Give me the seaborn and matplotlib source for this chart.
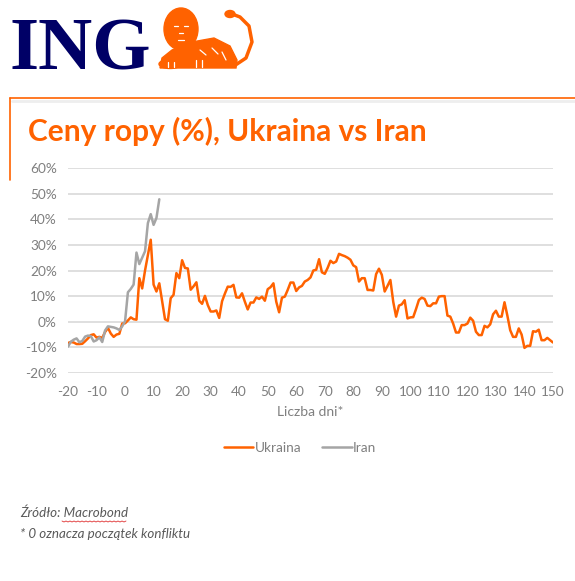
import seaborn as sns
import pandas as pd
import matplotlib.pyplot as plt
from matplotlib.lines import Line2D
from matplotlib.patches import Ellipse, Polygon

# Oil price change (%) vs days since start of conflict
days_ukraine = list(range(-20, 151))
ukraine = [
    -8.3, -7.9, -8.1, -8.7, -8.7, -8.6, -7.6, -6.5, -5.2, -4.9,
    -6.2, -5.9, -6.3, -4.0, -2.4, -4.6, -5.9, -5.0, -4.7, -0.7,
    -0.6, 0.5, 1.7, 1.0, 0.8, 17.0, 13.0, 20.0, 26.0, 32.0,
    14.5, 11.8, 15.0, 8.0, 1.0, 0.4, 9.2, 10.5, 19.0, 17.0,
    24.0, 21.0, 20.8, 12.5, 13.8, 15.4, 8.2, 7.0, 10.1, 6.5,
    4.0, 4.0, 4.4, 1.5, 8.0, 11.0, 13.7, 13.6, 14.4, 9.5,
    9.4, 11.1, 7.8, 4.8, 7.5, 7.5, 9.5, 8.9, 9.8, 8.2,
    12.7, 13.5, 15.0, 7.8, 3.7, 9.4, 9.8, 12.4, 15.3, 15.3,
    12.0, 13.4, 14.0, 15.7, 16.3, 17.3, 20.0, 20.3, 24.4, 19.3,
    18.7, 21.0, 23.8, 22.9, 23.5, 26.5, 26.0, 25.6, 25.0, 24.2,
    22.0, 21.3, 15.7, 17.0, 17.0, 12.4, 12.4, 12.2, 18.6, 20.7,
    18.3, 11.8, 14.0, 16.3, 7.8, 2.0, 6.3, 6.8, 8.4, 1.3,
    1.7, 1.8, 5.0, 8.5, 9.4, 8.9, 6.3, 6.1, 7.2, 7.2,
    9.8, 10.0, 10.0, 2.4, 2.0, -0.7, -4.2, -4.2, -1.3, -1.3,
    -0.7, 1.6, 0.4, -3.9, -5.2, -5.2, -1.6, -2.2, -1.0, 2.9,
    4.3, 2.0, 2.0, 7.6, 2.4, -3.3, -5.9, -5.9, -2.6, -5.0,
    -10.2, -9.4, -9.4, -3.7, -3.9, -3.1, -7.2, -7.2, -6.3, -7.2,
    -8.1,
]
days_iran = list(range(-20, 13))
iran = [
    -9.7, -7.8, -7.0, -6.5, -8.0, -7.5, -5.8, -5.4, -5.6, -7.7,
    -7.2, -6.1, -7.9, -3.4, -1.8, -2.0, -2.2, -2.6, -3.2, -1.8,
    0.2, 11.5, 12.8, 14.5, 27.0, 22.5, 25.0, 27.5, 38.5, 42.0,
    37.8, 40.5, 47.8,
]
x_ticks = list(range(-20, 151, 10))
y_ticks = [-20, -10, 0, 10, 20, 30, 40, 50, 60]
series_names = ['Ukraina', 'Iran']

ING_ORANGE = '#FF6200'
IRAN_GREY = '#A5A5A5'
TEXT_GREY = '#7F7F7F'

df = pd.concat([
    pd.DataFrame({'day': days_ukraine, 'value': ukraine, 'series': 'Ukraina'}),
    pd.DataFrame({'day': days_iran, 'value': iran, 'series': 'Iran'}),
])

sns.set_style('white')
plt.rcParams['font.family'] = ['Lato', 'DejaVu Sans']
plt.rcParams['axes.unicode_minus'] = False

fig = plt.figure(figsize=(5.75, 5.81), dpi=100)

# decoration layer in pixel coordinates
deco = fig.add_axes([0, 0, 1, 1])
deco.set_xlim(0, 575)
deco.set_ylim(581, 0)
deco.axis('off')

deco.text(9, 69, 'ING', fontsize=54, family='Liberation Serif', weight='bold',
          color='#000066', va='baseline', ha='left')

# rough lion (lying, head on the left, tail curled up on the right)
deco.add_patch(Ellipse((181, 29), 34, 42, color=ING_ORANGE))
deco.add_patch(Polygon([(160, 68), (162, 58), (172, 50), (192, 42), (214, 38),
                        (230, 46), (237, 60), (236, 68)], color=ING_ORANGE))
deco.add_patch(Ellipse((170, 64), 22, 9, color=ING_ORANGE))
deco.plot([234, 246, 252, 249, 240, 232], [66, 58, 42, 26, 17, 14],
          color=ING_ORANGE, lw=2.5, solid_capstyle='round')
deco.add_patch(Ellipse((230, 14), 10, 7, color=ING_ORANGE))
for x0, y0, x1, y1 in [(174, 26, 178, 26), (184, 26, 188, 26), (179, 33, 183, 33),
                       (178, 40, 184, 40), (200, 50, 206, 55), (212, 48, 218, 54),
                       (222, 52, 226, 60), (168, 62, 168, 67), (174, 62, 174, 67),
                       (196, 60, 196, 67), (202, 60, 202, 67)]:
    deco.plot([x0, x1], [y0, y1], color='white', lw=0.9)

# box around the title
deco.plot([10, 575], [98, 98], color=ING_ORANGE, lw=1.2)
deco.plot([10, 10], [98, 180], color=ING_ORANGE, lw=1.2)
deco.plot([12, 575], [101, 101], color='#EEEEEE', lw=2)

deco.text(28, 131, 'Ceny ropy (%), Ukraina vs Iran', fontsize=21.5, weight='bold',
          color=ING_ORANGE, va='center', ha='left')

deco.text(20, 513, 'Źródło: Macrobond', fontsize=9.6, style='italic',
          color='#595959', va='center', ha='left')
deco.text(20, 534, '* 0 oznacza początek konfliktu', fontsize=9.6, style='italic',
          color='#595959', va='center', ha='left')
wx = [62 + i * 2 for i in range(33)]
deco.plot(wx, [521 + (i % 2) for i in range(33)], color='#E03030', lw=0.6)

# chart
ax = fig.add_axes([68 / 575, 1 - 373 / 581, (553 - 68) / 575, (373 - 168) / 581])
ax.set_facecolor('none')
sns.lineplot(data=df, x='day', y='value', hue='series', hue_order=series_names,
             palette={'Ukraina': ING_ORANGE, 'Iran': IRAN_GREY},
             linewidth=1.8, legend=False, ax=ax)

ax.set_xlim(-20, 150)
ax.set_ylim(-20, 60)
ax.set_xticks(x_ticks)
ax.set_yticks(y_ticks)
ax.set_yticklabels([f'{t}%' for t in y_ticks])
ax.grid(axis='y', color='#D9D9D9', linewidth=1.2)
ax.grid(axis='x', visible=False)
ax.set_axisbelow(True)
for s in ax.spines.values():
    s.set_visible(False)
ax.tick_params(axis='both', length=0, labelsize=9.8, labelcolor=TEXT_GREY)
ax.tick_params(axis='x', pad=9)
ax.tick_params(axis='y', pad=8)
ax.set_xlabel('Liczba dni*', fontsize=10, color=TEXT_GREY, labelpad=6)
ax.set_ylabel('')

handles = [Line2D([], [], color=ING_ORANGE, lw=1.8),
           Line2D([], [], color=IRAN_GREY, lw=1.8)]
fig.legend(handles, series_names, loc='center', bbox_to_anchor=(300 / 575, 1 - 448 / 581),
           ncol=2, frameon=False, fontsize=9.8, labelcolor=TEXT_GREY,
           handlelength=2.2, handletextpad=0.1, columnspacing=1.5)

fig.savefig('out.png', dpi=100)
